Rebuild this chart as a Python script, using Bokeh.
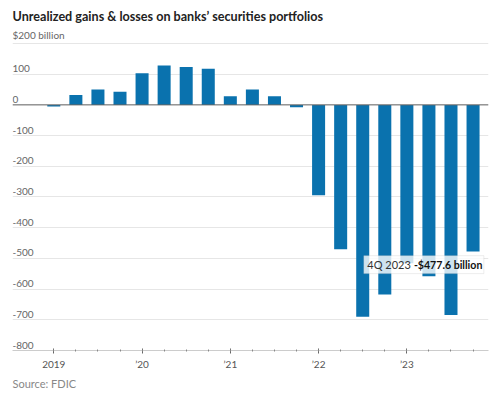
from bokeh.plotting import figure
from bokeh.models import (Range1d, FixedTicker, Span, Label, BoxAnnotation, Title,
                          ColumnDataSource)
from bokeh.core.properties import value
from bokeh.embed import file_html
from bokeh.resources import INLINE

# ---- data ----
quarters = ["1Q 2019", "2Q 2019", "3Q 2019", "4Q 2019",
            "1Q 2020", "2Q 2020", "3Q 2020", "4Q 2020",
            "1Q 2021", "2Q 2021", "3Q 2021", "4Q 2021",
            "1Q 2022", "2Q 2022", "3Q 2022", "4Q 2022",
            "1Q 2023", "2Q 2023", "3Q 2023", "4Q 2023"]
gains = [-5, 32, 50, 43, 103, 128, 123, 118, 28, 50, 28, -8,
         -294, -470, -690, -618, -516, -558, -684, -477.6]
y_ticks = [200, 100, 0, -100, -200, -300, -400, -500, -600, -700, -800]
y_labels = ["$200 billion", "100", "0", "-100", "-200", "-300", "-400",
            "-500", "-600", "-700", "-800"]
x_tick_pos = [0, 4, 8, 12, 16]
x_tick_labels = ["2019", "\u201920", "\u201921", "\u201922", "\u201923"]
callout_label = "4Q 2023"
callout_value = "-$477.6 billion"

FONT = "Lato"
BLUE = "#0a72ae"

idx = list(range(len(quarters)))
x_start, x_end = -1.872, 19.70
y_start, y_end = -800, 245.5

p = figure(width=500, height=399, output_backend="svg", toolbar_location=None,
           x_range=Range1d(x_start, x_end), y_range=Range1d(y_start, y_end),
           min_border_left=12, min_border_right=12, min_border_top=28,
           min_border_bottom=49)
p.outline_line_color = None
p.background_fill_color = "white"
p.border_fill_color = "white"

p.title.text = "Unrealized gains & losses on banks\u2019 securities portfolios"
p.title.align = "left"
p.title.text_font = FONT
p.title.text_font_size = "12.6px"
p.title.text_font_style = "bold"
p.title.text_color = "#222222"
p.title.offset = 0
p.title.standoff = 12

# grid
p.xgrid.visible = False
p.yaxis.visible = False
p.yaxis.ticker = FixedTicker(ticks=y_ticks)
p.ygrid.ticker = FixedTicker(ticks=y_ticks)
p.ygrid.grid_line_color = "#e6e6e6"
p.ygrid.grid_line_width = 1

# x axis
p.xaxis.ticker = FixedTicker(ticks=x_tick_pos, minor_ticks=idx)
p.xaxis.major_label_overrides = {float(k): v for k, v in zip(x_tick_pos, x_tick_labels)}
p.xaxis.axis_line_color = "#cccccc"
p.xaxis.major_tick_line_color = "#666666"
p.xaxis.minor_tick_line_color = "#888888"
p.xaxis.major_tick_in = 2
p.xaxis.major_tick_out = 3
p.xaxis.minor_tick_in = 1
p.xaxis.minor_tick_out = 1
p.xaxis.major_label_standoff = 4
p.xaxis.major_label_text_font = FONT
p.xaxis.major_label_text_font_size = "10px"
p.xaxis.major_label_text_color = "#555555"

# bars
src = ColumnDataSource(dict(x=idx, top=gains, q=quarters))
p.vbar(x="x", top="top", bottom=0, width=0.59, source=src,
       fill_color=BLUE, line_color=None)

# zero line
p.add_layout(Span(location=0, dimension="width", line_color="#666666", line_width=1))

# y tick labels inside plot
lab = ColumnDataSource(dict(x=[x_start] * len(y_ticks), y=y_ticks, t=y_labels))
p.text(x="x", y="y", text="t", source=lab, text_font=value(FONT),
       text_font_size=value("10px"), text_color="#666666",
       text_baseline="bottom", text_align="left", y_offset=-2)

# callout
last_x = idx[-1]
last_v = gains[-1]
box_left = last_x - 4.95
box_right = last_x + 0.49
p.add_layout(BoxAnnotation(left=box_left, right=box_right,
                           top=last_v - 13.5, bottom=last_v - 72,
                           fill_color="white", fill_alpha=0.8,
                           line_color="#c4c4c4", line_width=1, level="overlay"))
p.add_layout(Label(x=box_left, y=last_v - 43, x_offset=3.5, text=callout_label,
                   text_font=FONT, text_font_size="11px", text_color="#333333",
                   text_align="left", text_baseline="middle", level="overlay"))
p.add_layout(Label(x=box_right, y=last_v - 43, x_offset=-1.5, text=callout_value,
                   text_font=FONT, text_font_size="10.6px", text_font_style="bold",
                   text_color="#111111", text_align="right", text_baseline="middle",
                   level="overlay"))

# source
p.add_layout(Title(text="Source: FDIC", align="left", text_font=FONT,
                   text_font_size="11px", text_font_style="normal",
                   text_color="#888888", offset=0, standoff=5), "below")

open("out.html", "w").write(file_html(p, INLINE))
